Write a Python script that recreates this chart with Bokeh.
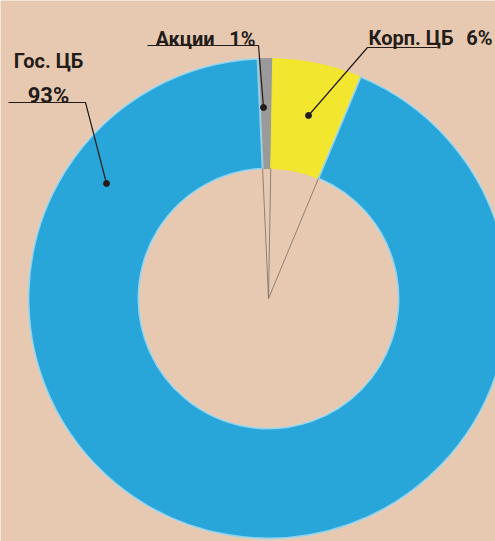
import numpy as np
from bokeh.plotting import figure
from bokeh.models import Range1d, ColumnDataSource
from bokeh.core.properties import value
from bokeh.embed import file_html
from bokeh.resources import INLINE

# ---- data ----
categories = ["Акции", "Корп. ЦБ", "Гос. ЦБ"]
values = [1, 6, 93]
pct_labels = ["1%", "6%", "93%"]
colors = ["#9a9a9a", "#f2e62e", "#28a6da"]

W, H = 495, 541
BG = "#e7c9b1"
FONT = value("Liberation Sans Narrow, Roboto, sans-serif")

p = figure(width=W, height=H, x_range=Range1d(0, W), y_range=Range1d(0, H),
           output_backend="svg", toolbar_location=None, min_border=0)
p.axis.visible = False
p.grid.visible = False
p.outline_line_color = None
p.background_fill_color = BG
p.border_fill_color = BG

def Y(py):
    return H - py

cx, cy = 268, Y(298)
r_out, r_in = 240, 130

# clockwise wedges, gray's left edge slightly left of top
fr = np.array(values, dtype=float) / sum(values)
start0 = np.deg2rad(90 + 360 * fr[0] - 1.0)
cum = np.concatenate([[0], np.cumsum(fr)]) * 2 * np.pi
starts = start0 - cum[:-1]
ends = start0 - cum[1:]

src = ColumnDataSource(dict(x=[cx] * 3, y=[cy] * 3, start=list(starts), end=list(ends),
                            color=colors, cat=categories, val=values))
p.annular_wedge(x="x", y="y", inner_radius=r_in, outer_radius=r_out,
                start_angle="start", end_angle="end", direction="clock",
                fill_color="color", line_color="color", line_width=1, source=src)
# light rough edge fringe
p.annular_wedge(x=cx, y=cy, inner_radius=r_in, outer_radius=r_out,
                start_angle=ends[1], end_angle=ends[2], direction="clock",
                fill_color=None, line_color="#bfe3f0", line_width=2, line_alpha=0.7)

# thin pointer lines from centre to the boundaries of small segments
for ang in [starts[0], ends[0], ends[1]]:
    p.line([cx, cx + r_in * np.cos(ang)], [cy, cy + r_in * np.sin(ang)],
           line_color="#7a6e66", line_width=1, line_alpha=0.8)

# ---- labels with leader lines ----
ink = "#241c18"
# Акции
p.line([147, 258, 263], [Y(45), Y(45), Y(107)], line_color=ink, line_width=1.2)
p.scatter([263], [Y(107)], size=6, color=ink)
p.text([155], [Y(38)], text=[categories[0]], text_font=FONT, text_font_size="20px",
       text_font_style="bold", text_color=ink, text_baseline="alphabetic", text_align="left")
p.text([255], [Y(38)], text=[pct_labels[0]], text_font=FONT, text_font_size="20px",
       text_font_style="bold", text_color=ink, text_baseline="alphabetic", text_align="right")
# Корп. ЦБ
p.line([437, 367, 308], [Y(47), Y(47), Y(115)], line_color=ink, line_width=1.2)
p.scatter([308], [Y(115)], size=6, color=ink)
p.text([368], [Y(37)], text=[categories[1]], text_font=FONT, text_font_size="20px",
       text_font_style="bold", text_color=ink, text_baseline="alphabetic", text_align="left")
p.text([492], [Y(37)], text=[pct_labels[1]], text_font=FONT, text_font_size="20px",
       text_font_style="bold", text_color=ink, text_baseline="alphabetic", text_align="right")
# Гос. ЦБ
p.line([8, 85, 106], [Y(102), Y(102), Y(183)], line_color=ink, line_width=1.2)
p.scatter([106], [Y(183)], size=6, color=ink)
p.text([48], [Y(60)], text=[categories[2]], text_font=FONT, text_font_size="20px",
       text_font_style="bold", text_color=ink, text_baseline="alphabetic", text_align="center")
p.text([48], [Y(95)], text=[pct_labels[2]], text_font=FONT, text_font_size="22px",
       text_font_style="bold", text_color=ink, text_baseline="alphabetic", text_align="center")

open("out.html", "w").write(file_html(p, INLINE))
